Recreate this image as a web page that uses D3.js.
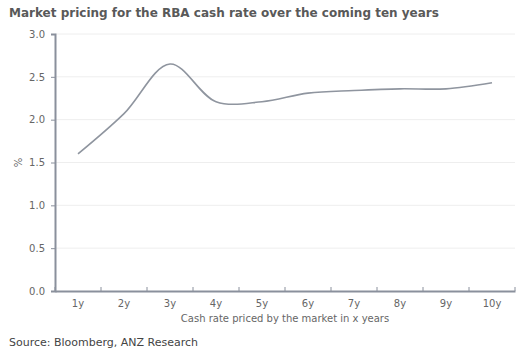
<!DOCTYPE html>
<html><head><meta charset="utf-8">
<script src="https://cdn.jsdelivr.net/npm/d3@7"></script>
<style>body{margin:0;background:#fff}svg{display:block}</style>
</head><body>
<svg id="c" width="520" height="355"></svg>
<script>
const categories = ["1y","2y","3y","4y","5y","6y","7y","8y","9y","10y"];
const values = [1.60, 2.07, 2.65, 2.21, 2.21, 2.31, 2.34, 2.36, 2.36, 2.43];
const yTicks = [0, 0.5, 1.0, 1.5, 2.0, 2.5, 3.0];
const title = "Market pricing for the RBA cash rate over the coming ten years";
const xTitle = "Cash rate priced by the market in x years";
const yTitle = "%";
const source = "Source: Bloomberg, ANZ Research";

const svg = d3.select("#c");
const L = 55, R = 515, T = 34, B = 291;
const x = d3.scaleBand().domain(categories).range([L, R]);
const y = d3.scaleLinear().domain([0, 3]).range([B, T]);
const font = "Verdana, 'DejaVu Sans', sans-serif";

svg.append("text").attr("x", 9).attr("y", 17).text(title)
  .attr("font-family", font).attr("font-weight", "bold").attr("font-size", 12).attr("fill", "#595959");

// grid
svg.append("g").selectAll("line").data(yTicks.filter(d => d > 0)).join("line")
  .attr("x1", L).attr("x2", R).attr("y1", d => y(d)).attr("y2", d => y(d))
  .attr("stroke", "#eeeeee").attr("stroke-width", 1);

// y axis
const ya = svg.append("g").attr("transform", `translate(${L},0)`)
  .call(d3.axisLeft(y).tickValues(yTicks).tickFormat(d3.format(".1f")).tickSize(4).tickPadding(6));
ya.select(".domain").attr("stroke", "#8a909c").attr("stroke-width", 2);
ya.selectAll(".tick line").attr("stroke", "#8a909c");
ya.selectAll("text").attr("font-family", font).attr("font-size", 10).attr("fill", "#666");

// x axis
const xa = svg.append("g").attr("transform", `translate(0,${B})`)
  .call(d3.axisBottom(x).tickSize(0).tickPadding(9));
xa.select(".domain").attr("stroke", "#8a909c").attr("stroke-width", 2);
xa.selectAll("text").attr("font-family", font).attr("font-size", 10).attr("fill", "#666");
const edges = d3.range(categories.length + 1).map(i => L + i * x.bandwidth());
svg.append("g").selectAll("line").data(edges).join("line")
  .attr("x1", d => d).attr("x2", d => d).attr("y1", B).attr("y2", B - 4)
  .attr("stroke", "#8a909c").attr("stroke-width", 1);

// line
const line = d3.line().x((d, i) => x(categories[i]) + x.bandwidth() / 2).y(d => y(d))
  .curve(d3.curveCatmullRom.alpha(0.5));
svg.append("path").datum(values).attr("d", line).attr("fill", "none")
  .attr("stroke", "#8f959f").attr("stroke-width", 1.6);

svg.append("text").attr("transform", `translate(22,${y(1.5)}) rotate(-90)`)
  .attr("text-anchor", "middle").text(yTitle)
  .attr("font-family", font).attr("font-size", 10).attr("fill", "#666");
svg.append("text").attr("x", (L + R) / 2).attr("y", 322).attr("text-anchor", "middle").text(xTitle)
  .attr("font-family", font).attr("font-size", 10).attr("fill", "#666");
svg.append("text").attr("x", 9).attr("y", 346).text(source)
  .attr("font-family", font).attr("font-size", 11).attr("fill", "#444");
</script>
</body></html>
